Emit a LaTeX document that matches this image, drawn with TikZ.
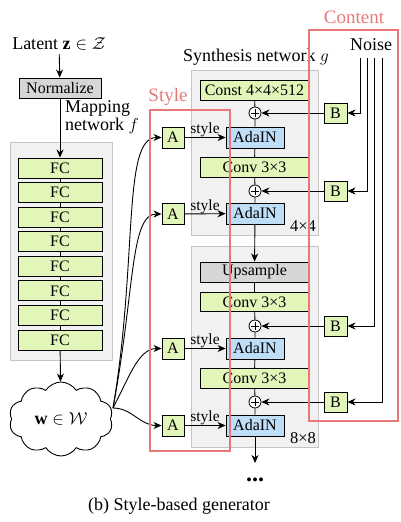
\documentclass[tikz,border=0pt]{standalone}
\usepackage{fontspec}
\setmainfont{Liberation Serif}
\usepackage{amsmath,amssymb}
\usetikzlibrary{shapes.symbols,arrows.meta,positioning,calc}

\definecolor{fcgreen}{RGB}{226,246,186}
\definecolor{adablue}{RGB}{190,222,248}
\definecolor{boxgray}{RGB}{214,214,214}
\definecolor{panelfill}{RGB}{241,241,241}
\definecolor{panelline}{RGB}{196,196,196}
\definecolor{groupred}{RGB}{232,120,120}

\tikzset{
    txt/.style={font=\fontsize{16}{18}\selectfont},
    lbl/.style={font=\fontsize{18}{18}\selectfont},
    box/.style={txt, draw, line width=0.9pt, inner sep=0pt},
    fcbox/.style={box, fill=fcgreen, minimum width=84pt, minimum height=20pt},
    normbox/.style={box, fill=boxgray, minimum width=82pt, minimum height=20pt},
    layerbox/.style={box, fill=fcgreen, minimum width=109pt, minimum height=19.5pt},
    upbox/.style={box, fill=boxgray, minimum width=109pt, minimum height=20pt},
    adabox/.style={box, fill=adablue, minimum width=58pt, minimum height=21pt},
    abox/.style={box, fill=fcgreen, minimum width=22pt, minimum height=21pt},
    bbox/.style={box, fill=fcgreen, minimum width=23pt, minimum height=20pt},
    plus/.style={circle, draw, line width=0.8pt, fill=white, minimum size=12pt, inner sep=0pt,
        path picture={\draw[line width=0.6pt] ([yshift=-2pt]path picture bounding box.north) -- ([yshift=2pt]path picture bounding box.south)
            ([xshift=2pt]path picture bounding box.west) -- ([xshift=-2pt]path picture bounding box.east);}},
    panel/.style={draw=panelline, fill=panelfill, line width=0.8pt},
    group/.style={draw=groupred, line width=1.3pt},
    wire/.style={line width=0.9pt},
    arr/.style={wire, -{Stealth[length=8pt,width=7pt,inset=2.5pt]}},
}

\begin{document}
\begin{tikzpicture}[x=1pt,y=-1pt]
    \useasboundingbox (0,0) rectangle (401,522);

    % mapping network
    \node[lbl] (latent) at (59,44) {Latent $\mathbf{z}\in\mathcal{Z}$};
    \node[normbox] (norm) at (60,88) {Normalize};
    \node[lbl, anchor=north west, align=left, inner sep=0pt] (maplabel) at (65,100) {Mapping\\network $f$};
    \draw[panel] (10,142) rectangle (112,360);
    \foreach \i in {1,...,8}
        \node[fcbox] (fc\i) at (60,{168+24.57*(\i-1)}) {FC};
    \foreach \i [evaluate=\i as \j using int(\i+1)] in {1,...,7}
        \draw[wire] (fc\i) -- (fc\j);
    \draw[arr] (latent) -- (norm);
    \draw[arr] (norm) -- (fc1);

    \node[lbl, cloud, draw, line width=0.9pt, cloud puffs=10, cloud puff arc=115, aspect=1.45,
        minimum width=104pt, minimum height=74pt, inner sep=0pt] (w) at (61,419) {$\mathbf{w}\in\mathcal{W}$};
    \draw[arr] (fc8) -- (w);

    % synthesis network
    \node[lbl] (synlabel) at (256,57) {Synthesis network $g$};
    \draw[panel] (191,70) rectangle (318,235);
    \draw[panel] (191,246) rectangle (318,447);

    \node[layerbox] (const) at (254.5,90.5) {Const 4×4×512};
    \node[plus] (p1) at (255,113) {};
    \node[adabox] (ada1) at (255,137.5) {AdaIN};
    \node[layerbox] (conv1) at (254.5,167.5) {Conv 3×3};
    \node[plus] (p2) at (255,191) {};
    \node[adabox] (ada2) at (255,213.5) {AdaIN};
    \node[txt, font=\fontsize{16.5}{18}\selectfont] (res1) at (303,226) {4×4};

    \node[upbox] (up) at (254.5,272) {Upsample};
    \node[layerbox] (conv2) at (254.5,302) {Conv 3×3};
    \node[plus] (p3) at (255,326) {};
    \node[adabox] (ada3) at (255,348.5) {AdaIN};
    \node[layerbox] (conv3) at (254.5,378.5) {Conv 3×3};
    \node[plus] (p4) at (255,402) {};
    \node[adabox] (ada4) at (255,425.5) {AdaIN};
    \node[txt, font=\fontsize{16.5}{18}\selectfont] (res2) at (303,438) {8×8};

    \draw[wire] (const) -- (p1) -- (ada1) -- (conv1) -- (p2) -- (ada2);
    \draw[arr] (ada2) -- (up);
    \draw[wire] (up) -- (conv2) -- (p3) -- (ada3) -- (conv3) -- (p4) -- (ada4);
    \coordinate (next) at (255,463);
    \draw[arr] (ada4) -- (next);
    \node[font=\fontsize{24}{24}\selectfont\bfseries, inner sep=0pt] (dots) at (255,480) {...};

    % style inputs
    \node[abox] (a1) at (173,137.5) {A};
    \node[abox] (a2) at (173,214) {A};
    \node[abox] (a3) at (173,348.5) {A};
    \node[abox] (a4) at (173,425.5) {A};
    \foreach \i in {1,...,4}
        \draw[arr] (a\i) -- node[font=\fontsize{15.5}{16}\selectfont, above, inner sep=1pt, yshift=-1pt] {style} (ada\i);

    \coordinate (wout) at (113,408);
    \draw[arr] (wout) .. controls (138,260) and (122,137.5) .. (a1.west);
    \draw[arr] (wout) .. controls (135,290) and (130,214) .. (a2.west);
    \draw[arr] (wout) .. controls (128,380) and (138,348.5) .. (a3.west);
    \draw[arr] (wout) .. controls (132,408) and (140,425.5) .. (a4.west);

    % noise inputs
    \node[lbl] (noise) at (371,45) {Noise};
    \node[bbox] (b1) at (335.5,113) {B};
    \node[bbox] (b2) at (335.5,191) {B};
    \node[bbox] (b3) at (335.5,326) {B};
    \node[bbox] (b4) at (335.5,402) {B};
    \coordinate (n1) at (360,58);
    \coordinate (n2) at (367,58);
    \coordinate (n3) at (374,58);
    \coordinate (n4) at (382,58);
    \foreach \i in {1,...,4} {
        \draw[arr] (n\i) |- (b\i.east);
        \draw[arr] (b\i) -- (p\i);
    }

    % groups
    \draw[group] (150,110) rectangle (230,451);
    \node[lbl, font=\fontsize{19}{19}\selectfont, text=groupred] (stylelabel) at (168,97) {Style};
    \draw[group] (309,30) rectangle (398,421);
    \node[lbl, font=\fontsize{19}{19}\selectfont, text=groupred] (contentlabel) at (354,17) {Content};

    \node[lbl] (caption) at (179,506) {(b) Style-based generator};
\end{tikzpicture}
\end{document}
